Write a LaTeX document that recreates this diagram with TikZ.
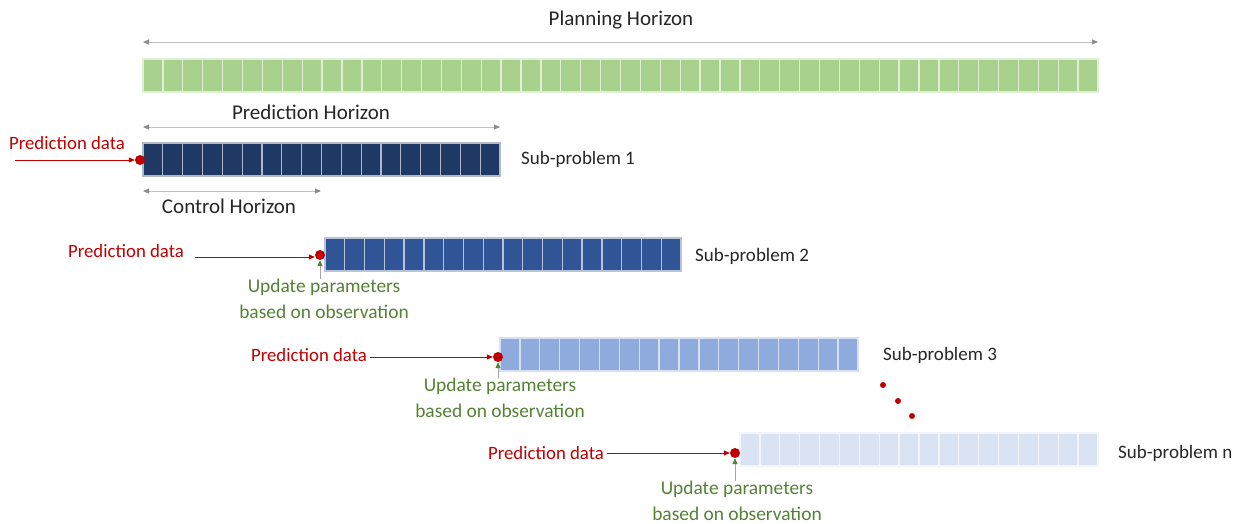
\documentclass[tikz,border=0pt]{standalone}
\usepackage{fontspec}
\setmainfont{Carlito}
\usetikzlibrary{arrows.meta}
\definecolor{cgreen}{HTML}{A9D18E}
\definecolor{cnavy}{HTML}{203864}
\definecolor{cblue}{HTML}{2F5597}
\definecolor{clight}{HTML}{8FAADC}
\definecolor{cpale}{HTML}{DAE3F3}
\definecolor{cred}{HTML}{C00000}
\definecolor{cdgreen}{HTML}{548235}
\definecolor{ctext}{HTML}{262626}
\definecolor{carrow}{HTML}{BFBFBF}
\newcommand\cellrow[5]{% x0, y0, ncells, cellwidth, color
  \foreach \i in {1,...,#3}{
    \fill[#5, draw=#5!35!white, line width=1.3pt] ({#1+(\i-1)*#4}, #2) rectangle ++(#4, 33);
  }
}
\begin{document}
\begin{tikzpicture}[x=1pt,y=-1pt,
  bar/.style={rectangle, inner sep=0pt, minimum height=33pt, anchor=north west},
  lbl/.style={font=\fontsize{21}{24}\selectfont, text=ctext, inner sep=0pt},
  redlbl/.style={font=\fontsize{18.8}{22}\selectfont, text=cred, inner sep=0pt},
  updlbl/.style={font=\fontsize{19.4}{25.5}\selectfont, text=cdgreen, inner sep=0pt, align=center},
  sublbl/.style={font=\fontsize{19}{22}\selectfont, text=ctext, inner sep=0pt, anchor=west},
  dot/.style={circle, fill=cred, inner sep=0pt, minimum size=10pt},
  sdot/.style={circle, fill=cred, inner sep=0pt, minimum size=6pt},
  horiz/.style={draw=carrow, line width=0.9pt, {Triangle[length=6pt,width=5pt,color=gray!90]}-{Triangle[length=6pt,width=5pt,color=gray!90]}},
  redarr/.style={draw=cred, line width=0.8pt, -{Triangle[length=6pt,width=5pt]}},
  updarr/.style={draw=gray!70, line width=0.8pt, -{Triangle[length=6pt,width=5pt,color=cdgreen]}}
]
\useasboundingbox (0,0) rectangle (1237,524);

% bars
\node[bar, minimum width=955pt] (plan) at (143,59) {};
\cellrow{143}{59}{48}{19.896}{cgreen}
\node[bar, minimum width=357pt] (s1) at (143,143) {};
\cellrow{143}{143}{18}{19.833}{cnavy}
\node[bar, minimum width=356pt] (s2) at (325,238) {};
\cellrow{325}{238}{18}{19.78}{cblue}
\node[bar, minimum width=358pt] (s3) at (500,338) {};
\cellrow{500}{338}{18}{19.89}{clight}
\node[bar, minimum width=358pt] (sn) at (740,433) {};
\cellrow{740}{433}{18}{19.89}{cpale}

% horizon arrows
\coordinate (pl1) at (143,42); \coordinate (pl2) at (1098,42);
\draw[horiz] (pl1) -- (pl2);
\node[lbl] (plbl) at (621,20) {Planning Horizon};
\coordinate (ph1) at (143,127); \coordinate (ph2) at (500,127);
\draw[horiz] (ph1) -- (ph2);
\node[lbl] (phlbl) at (311,112) {Prediction Horizon};
\coordinate (ch1) at (143,191); \coordinate (ch2) at (321,191);
\draw[horiz] (ch1) -- (ch2);
\node[lbl] (chlbl) at (229,206) {Control Horizon};

% sub-problem 1
\node[dot] (d1) at (140,160) {};
\node[redlbl] (p1) at (67,143) {Prediction data};
\coordinate (a1) at (15,160);
\draw[redarr] (a1) -- (d1.west);
\node[sublbl] (l1) at (521,159) {Sub-problem 1};

% sub-problem 2
\node[dot] (d2) at (320,255) {};
\node[redlbl] (p2) at (126,251) {Prediction data};
\coordinate (a2) at (195,257);
\draw[redarr] (a2) -- (d2.west |- a2);
\node[updlbl] (u2) at (324,299) {Update parameters\\based on observation};
\draw[updarr] (d2 |- u2.north) -- (d2.south);
\node[sublbl] (l2) at (695,256) {Sub-problem 2};

% sub-problem 3
\node[dot] (d3) at (498,357) {};
\node[redlbl] (p3) at (309,355) {Prediction data};
\draw[redarr] (p3.east) ++(3,2) coordinate (a3) -- (d3.west);
\node[updlbl] (u3) at (500,398) {Update parameters\\based on observation};
\draw[updarr] (d3 |- u3.north) -- (d3.south);
\node[sublbl] (l3) at (883,355) {Sub-problem 3};

% dots
\node[sdot] (e1) at (883,385) {};
\node[sdot] (e2) at (898,401) {};
\node[sdot] (e3) at (912,416) {};

% sub-problem n
\node[dot] (dn) at (735,453) {};
\node[redlbl] (pn) at (546,453) {Prediction data};
\draw[redarr] (pn.east) ++(3,0) coordinate (an) -- (dn.west);
\node[updlbl] (un) at (737,501) {Update parameters\\based on observation};
\draw[updarr] (dn |- un.north) -- (dn.south);
\node[sublbl] (ln) at (1118,453) {Sub-problem n};
\end{tikzpicture}
\end{document}
